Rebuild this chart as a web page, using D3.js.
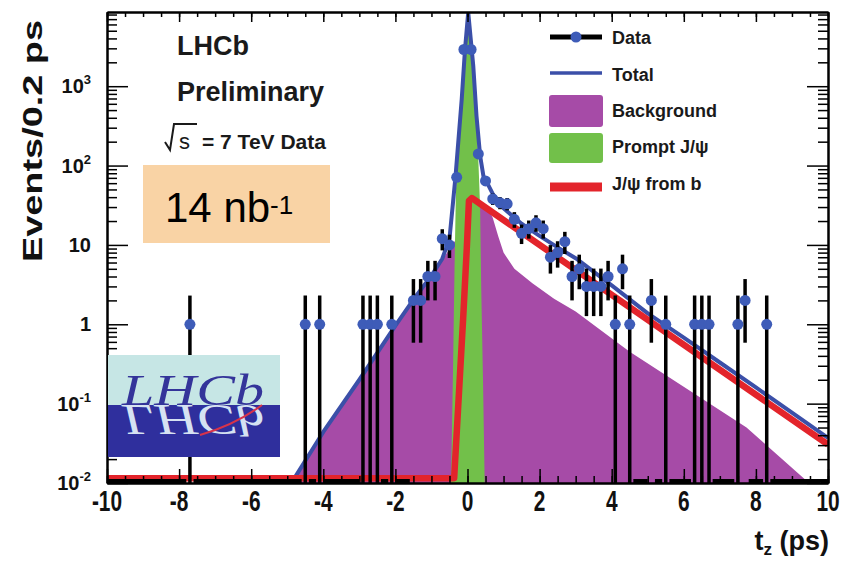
<!DOCTYPE html>
<html>
<head>
<meta charset="utf-8">
<script src="https://cdn.jsdelivr.net/npm/d3@7"></script>
<style>
  body { margin: 0; background: #fff; }
  svg { display: block; font-family: "Liberation Sans", Arial, sans-serif; }
</style>
</head>
<body>
<script>
// measured points: bin centre (ps), events per 0.2 ps bin (empty bins left out)
const dataT = [-7.7, -4.5, -4.1, -2.9, -2.7, -2.5, -2.1,
               -1.5, -1.3, -1.1, -0.9, -0.7, -0.5, -0.3, -0.1,
               0.1, 0.3, 0.5, 0.7, 0.9, 1.1, 1.3, 1.5, 1.7, 1.9, 2.1, 2.3, 2.5, 2.7, 2.9, 3.1, 3.3, 3.5, 3.7, 3.9,
               4.1, 4.3, 4.5, 5.1, 5.5, 6.3, 6.5, 6.7, 7.5, 7.7, 8.3];
const dataN = [1, 1, 1, 1, 1, 1, 1,
               2, 2, 4, 4, 12, 10, 71, 2900,
               2900, 140, 64, 38, 34, 33, 21, 14, 16, 19, 16, 7, 8, 11, 4, 5, 3, 3, 3, 4,
               1, 5, 1, 2, 1, 1, 1, 1, 1, 2, 1];

// fit components, [t, value]
const bkgCurve = [[-4.78, 0.0125], [-4, 0.042], [-3, 0.2], [-2, 0.95], [-1.5, 2.0], [-1, 4.0], [-0.7, 6.5],
                  [-0.45, 9.5], [0, 20], [0.45, 34], [0.55, 30], [0.7, 22], [0.85, 13], [1.0, 8], [1.3, 5],
                  [1.8, 3.3], [2.4, 2.1], [3.0, 1.45], [4.5, 0.45], [7.74, 0.05], [9.42, 0.0105], [9.6, 0.008]];
const promptCurve = [[-0.46, 0.008], [-0.4, 0.3], [-0.36, 5], [-0.32, 50], [-0.16, 650], [-0.07, 2850],
                     [0.02, 8400], [0.16, 1750], [0.25, 380], [0.3, 120], [0.35, 30], [0.38, 3], [0.43, 0.2], [0.48, 0.008]];
const fromBCurve = [[-10, 0.0115], [-0.37, 0.0115], [-0.12, 1.2], [-0.02, 9], [0.04, 36], [0.12, 39], [10, 0.0305]];
const totalCurve = [[-10, 0.0115], [-4.8, 0.0115], [-4, 0.044], [-3, 0.2], [-2, 0.96], [-1.5, 2.05], [-1, 4.1],
                    [-0.7, 6.7], [-0.5, 12], [-0.4, 35], [-0.33, 75], [-0.16, 690], [-0.07, 2900], [0.02, 8500],
                    [0.16, 1800], [0.25, 420], [0.35, 133], [0.45, 70], [0.55, 60], [0.7, 44], [1.0, 29], [1.5, 18.5],
                    [2, 13], [2.5, 9.3], [3, 6.8], [4, 3.1], [5, 1.37], [6, 0.68], [7, 0.33], [8, 0.16], [9, 0.077], [10, 0.037]];

const xMajor = [-10, -8, -6, -4, -2, 0, 2, 4, 6, 8, 10];
const yMajor = [0.01, 0.1, 1, 10, 100, 1000];
const legendNames = ["Data", "Total", "Background", "Prompt J/\u03c8", "J/\u03c8 from b"];

const w = 846, h = 561;
const pLeft = 107, pRight = 828, pTop = 12, pBottom = 483;

const svg = d3.select("body").append("svg").attr("width", w).attr("height", h);
svg.append("rect").attr("width", w).attr("height", h).attr("fill", "#fff");

const x = d3.scaleLinear().domain([-10, 10]).range([pLeft, pRight]);
const y = d3.scaleLog().domain([0.01, 8610]).range([pBottom, pTop]);

svg.append("clipPath").attr("id", "plotclip")
   .append("rect").attr("x", pLeft).attr("y", pTop).attr("width", pRight - pLeft).attr("height", pBottom - pTop);

const plot = svg.append("g").attr("clip-path", "url(#plotclip)");

const area = d3.area().x(d => x(d[0])).y0(pBottom + 5).y1(d => y(Math.max(d[1], 0.005)));
const line = d3.line().x(d => x(d[0])).y(d => y(Math.max(d[1], 0.005)));

plot.append("path").attr("d", area(bkgCurve)).attr("fill", "#a64ba7");
plot.append("path").attr("d", area(promptCurve)).attr("fill", "#72c04a");

plot.append("path").attr("d", line(totalCurve)).attr("fill", "none")
    .attr("stroke", "#3b4fa8").attr("stroke-width", 4).attr("stroke-linejoin", "round");
plot.append("path").attr("d", line(fromBCurve)).attr("fill", "none")
    .attr("stroke", "#e3242b").attr("stroke-width", 6.5).attr("stroke-linejoin", "round");

// empty bins sit on the floor of the plot
let zeroPath = "";
for (let i = 0; i < 100; i++) {
  const c = -9.9 + 0.2 * i;
  if (dataT.some(t => Math.abs(t - c) < 0.05)) continue;
  zeroPath += "M" + x(c - 0.1) + "," + (pBottom - 2) + "H" + x(c + 0.1);
}
plot.append("path").attr("d", zeroPath).attr("stroke", "#000").attr("stroke-width", 4).attr("fill", "none");

const pts = dataT.map((t, i) => ({ t: t, n: dataN[i] }));
plot.selectAll(".err").data(pts).enter().append("line")
    .attr("class", "err")
    .attr("x1", d => x(d.t)).attr("x2", d => x(d.t))
    .attr("y1", d => y(d.n + Math.sqrt(d.n) + 0.3))
    .attr("y2", d => d.n - Math.sqrt(d.n) > 0.001 ? y(d.n - Math.sqrt(d.n)) : pBottom)
    .attr("stroke", "#000").attr("stroke-width", 3.5);
plot.selectAll(".dot").data(pts).enter().append("circle")
    .attr("class", "dot")
    .attr("cx", d => x(d.t)).attr("cy", d => y(d.n))
    .attr("r", 5.5).attr("fill", "#3e5cb8");

// axes
const yMinor = [];
yMajor.forEach(d => { for (let k = 2; k <= 9; k++) if (d * k < 8610) yMinor.push(d * k); });
const xMinor = d3.range(-10, 10.01, 0.5);

function styleAxis(g) {
  g.selectAll("line").attr("stroke", "#000").attr("stroke-width", 1.5);
  g.select(".domain").attr("stroke", "#000").attr("stroke-width", 2);
  g.selectAll("text").remove();
}
svg.append("g").attr("transform", `translate(${pLeft},0)`).call(d3.axisLeft(y).tickValues(yMinor).tickSize(-10).tickSizeOuter(0)).call(styleAxis);
svg.append("g").attr("transform", `translate(${pLeft},0)`).call(d3.axisLeft(y).tickValues(yMajor).tickSize(-21).tickSizeOuter(0)).call(styleAxis);
svg.append("g").attr("transform", `translate(${pRight},0)`).call(d3.axisRight(y).tickValues(yMinor).tickSize(-10).tickSizeOuter(0)).call(styleAxis);
svg.append("g").attr("transform", `translate(${pRight},0)`).call(d3.axisRight(y).tickValues(yMajor).tickSize(-21).tickSizeOuter(0)).call(styleAxis);
svg.append("g").attr("transform", `translate(0,${pBottom})`).call(d3.axisBottom(x).tickValues(xMinor).tickSize(-7).tickSizeOuter(0)).call(styleAxis);
svg.append("g").attr("transform", `translate(0,${pBottom})`).call(d3.axisBottom(x).tickValues(xMajor).tickSize(-14).tickSizeOuter(0)).call(styleAxis);
svg.append("g").attr("transform", `translate(0,${pTop})`).call(d3.axisTop(x).tickValues(xMinor).tickSize(-5).tickSizeOuter(0)).call(styleAxis);
svg.append("g").attr("transform", `translate(0,${pTop})`).call(d3.axisTop(x).tickValues(xMajor).tickSize(-10).tickSizeOuter(0)).call(styleAxis);

// tick labels
xMajor.forEach(t => {
  svg.append("text")
     .attr("transform", `translate(${x(t)},511) scale(0.72,1)`)
     .attr("text-anchor", "middle").attr("font-size", 29).attr("font-weight", "bold").attr("fill", "#111")
     .text(t < 0 ? "-" + (-t) : t);
});
yMajor.forEach(v => {
  const e = Math.round(Math.log10(v));
  const tx = svg.append("text").attr("x", 91).attr("y", y(v) + 7)
     .attr("text-anchor", "end").attr("font-size", 20).attr("font-weight", "bold").attr("fill", "#111");
  if (e === 0) tx.text("1");
  else if (e === 1) tx.text("10");
  else {
    tx.append("tspan").text("10");
    tx.append("tspan").attr("dy", -9).attr("font-size", 13).text(e < 0 ? "-" + (-e) : e);
  }
});

// axis titles
svg.append("text")
   .attr("transform", "translate(42,141) rotate(-90)")
   .attr("text-anchor", "middle").attr("font-size", 27).attr("font-weight", "bold").attr("fill", "#111")
   .attr("textLength", 242).attr("lengthAdjust", "spacingAndGlyphs")
   .text("Events/0.2 ps");
const xt = svg.append("text").attr("x", 829).attr("y", 550).attr("text-anchor", "end")
   .attr("font-size", 27).attr("font-weight", "bold").attr("fill", "#111");
xt.append("tspan").text("t");
xt.append("tspan").attr("dy", 5).attr("font-size", 17).text("z");
xt.append("tspan").attr("dy", -5).text(" (ps)");

// LHCb labels
svg.append("text").attr("x", 177).attr("y", 55).attr("font-size", 27).attr("font-weight", "bold").attr("fill", "#1a1a1a").text("LHCb");
svg.append("text").attr("x", 177).attr("y", 101).attr("font-size", 27).attr("font-weight", "bold").attr("fill", "#1a1a1a").text("Preliminary");
svg.append("path").attr("d", "M165,142 L170,150 L174,124 L197,124").attr("fill", "none").attr("stroke", "#1a1a1a").attr("stroke-width", 2);
svg.append("text").attr("x", 179).attr("y", 149).attr("font-size", 22).attr("fill", "#1a1a1a").text("s");
svg.append("text").attr("x", 202).attr("y", 149).attr("font-size", 21).attr("font-weight", "bold").attr("fill", "#1a1a1a").text("= 7 TeV Data");

svg.append("rect").attr("x", 143).attr("y", 165).attr("width", 187).attr("height", 78).attr("fill", "#f9d3a5");
const lum = svg.append("text").attr("x", 165).attr("y", 222).attr("font-size", 42).attr("fill", "#000");
lum.append("tspan").text("14 nb");
lum.append("tspan").attr("dy", -8).attr("font-size", 26).text("-1");

// logo
const logo = svg.append("g");
logo.append("rect").attr("x", 108).attr("y", 355).attr("width", 172).attr("height", 50).attr("fill", "#c6e6e5");
logo.append("rect").attr("x", 108).attr("y", 405).attr("width", 172).attr("height", 52).attr("fill", "#2f2f9d");
logo.append("text").attr("x", 122).attr("y", 405).attr("font-family", "Liberation Serif, serif").attr("font-style", "italic")
    .attr("font-size", 44).attr("fill", "#34349a").attr("textLength", 142).attr("lengthAdjust", "spacingAndGlyphs").text("LHCb");
logo.append("text").attr("transform", "translate(0,810) scale(1,-1)").attr("x", 122).attr("y", 405)
    .attr("font-family", "Liberation Serif, serif").attr("font-style", "italic")
    .attr("font-size", 44).attr("fill", "#d6e2f2").attr("textLength", 142).attr("lengthAdjust", "spacingAndGlyphs").text("LHCb");
logo.append("path").attr("d", "M200,435 Q235,425 262,405").attr("fill", "none").attr("stroke", "#d8334a").attr("stroke-width", 2);

// legend
const leg = svg.append("g");
const rowY = [37, 73, 111, 148, 187];
const textY = [44, 81, 117, 153, 190];
leg.append("line").attr("x1", 550).attr("x2", 602).attr("y1", rowY[0]).attr("y2", rowY[0]).attr("stroke", "#000").attr("stroke-width", 5);
leg.append("circle").attr("cx", 576).attr("cy", rowY[0]).attr("r", 5.5).attr("fill", "#3e5cb8");
leg.append("line").attr("x1", 550).attr("x2", 602).attr("y1", rowY[1]).attr("y2", rowY[1]).attr("stroke", "#3b4fa8").attr("stroke-width", 3.5);
leg.append("rect").attr("x", 549).attr("y", rowY[2] - 16).attr("width", 54).attr("height", 32).attr("rx", 3).attr("fill", "#a64ba7");
leg.append("rect").attr("x", 549).attr("y", rowY[3] - 15).attr("width", 54).attr("height", 30).attr("rx", 3).attr("fill", "#72c04a");
leg.append("line").attr("x1", 550).attr("x2", 602).attr("y1", rowY[4]).attr("y2", rowY[4]).attr("stroke", "#e3242b").attr("stroke-width", 9);
legendNames.forEach((n, i) => {
  leg.append("text").attr("x", 612).attr("y", textY[i]).attr("font-size", 18).attr("font-weight", "bold").attr("fill", "#1a1a1a").text(n);
});
</script>
</body>
</html>
